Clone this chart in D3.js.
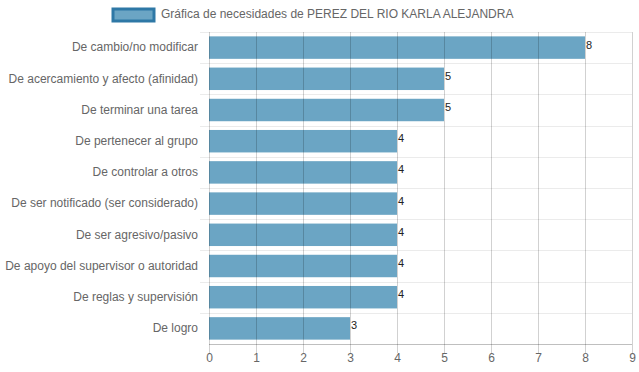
<!DOCTYPE html>
<html>
<head>
<meta charset="utf-8">
<script src="https://cdn.jsdelivr.net/npm/d3@7"></script>
<style>
  body { margin: 0; background: #fff; }
  svg { display: block; font-family: Arial, "Liberation Sans", sans-serif; }
</style>
</head>
<body>
<svg id="chart" width="639" height="372"></svg>
<script>
const categories = [
    "De cambio/no modificar",
    "De acercamiento y afecto (afinidad)",
    "De terminar una tarea",
    "De pertenecer al grupo",
    "De controlar a otros",
    "De ser notificado (ser considerado)",
    "De ser agresivo/pasivo",
    "De apoyo del supervisor o autoridad",
    "De reglas y supervisión",
    "De logro"
];
const values = [8, 5, 5, 4, 4, 4, 4, 4, 4, 3];
const xTicks = [0, 1, 2, 3, 4, 5, 6, 7, 8, 9];
const seriesName = "Gráfica de necesidades de PEREZ DEL RIO KARLA ALEJANDRA";

const svg = d3.select("#chart");
const margin = { top: 32, right: 7, bottom: 28, left: 209 };
const width = 639 - margin.left - margin.right;
const height = 372 - margin.top - margin.bottom;

const x = d3.scaleLinear().domain([0, 9]).range([0, width]);
const y = d3.scaleBand().domain(categories).range([0, height]);

const g = svg.append("g").attr("transform", `translate(${margin.left},${margin.top})`);

// horizontal grid (category boundaries)
g.append("g").selectAll("line")
    .data(d3.range(categories.length))
    .join("line")
    .attr("x1", -9).attr("x2", width)
    .attr("y1", i => Math.round(y(categories[i])) + 0.5)
    .attr("y2", i => Math.round(y(categories[i])) + 0.5)
    .attr("stroke", "#ebebeb");

// bars
const barH = y.bandwidth() * 0.8 * 0.9;
g.append("g").selectAll("rect")
    .data(values)
    .join("rect")
    .attr("x", 0)
    .attr("y", (d, i) => y(categories[i]) + (y.bandwidth() - barH) / 2)
    .attr("width", d => x(d))
    .attr("height", barH)
    .attr("fill", "#6ba5c4");

// vertical grid on top
g.append("g").selectAll("line")
    .data(xTicks)
    .join("line")
    .attr("x1", d => Math.round(x(d)) + 0.5)
    .attr("x2", d => Math.round(x(d)) + 0.5)
    .attr("y1", 0).attr("y2", height + 9)
    .attr("stroke", "rgba(0,0,0,0.18)");

// bottom axis line
g.append("line")
    .attr("x1", 0).attr("x2", width)
    .attr("y1", height + 0.5).attr("y2", height + 0.5)
    .attr("stroke", "rgba(0,0,0,0.25)");

// x tick labels
const xAxis = d3.axisBottom(x).tickValues(xTicks).tickSize(0).tickPadding(9);
g.append("g")
    .attr("transform", `translate(0,${height})`)
    .call(xAxis)
    .call(a => a.select(".domain").remove())
    .call(a => a.selectAll("text").attr("fill", "#666").attr("font-size", 12).attr("font-family", "Arial, 'Liberation Sans', sans-serif"));

// y labels
const yAxis = d3.axisLeft(y).tickSize(0).tickPadding(11);
g.append("g")
    .call(yAxis)
    .call(a => a.select(".domain").remove())
    .call(a => a.selectAll("text").attr("fill", "#666").attr("font-size", 12).attr("font-family", "Arial, 'Liberation Sans', sans-serif"));

// value labels
g.append("g").selectAll("text")
    .data(values)
    .join("text")
    .attr("x", d => x(d) + 1)
    .attr("y", (d, i) => y(categories[i]) + y.bandwidth() / 2 - 2)
    .attr("dominant-baseline", "middle")
    .attr("font-size", 11)
    .attr("fill", "#222")
    .text(d => d);

// legend
const legend = svg.append("g").attr("transform", "translate(113,9)");
legend.append("rect")
    .attr("width", 41).attr("height", 12)
    .attr("fill", "#6ba5c4")
    .attr("stroke", "#2e78a6")
    .attr("stroke-width", 3);
legend.append("text")
    .attr("x", 48).attr("y", 6)
    .attr("dominant-baseline", "middle")
    .attr("font-size", 12)
    .attr("fill", "#666")
    .text(seriesName);
</script>
</body>
</html>
